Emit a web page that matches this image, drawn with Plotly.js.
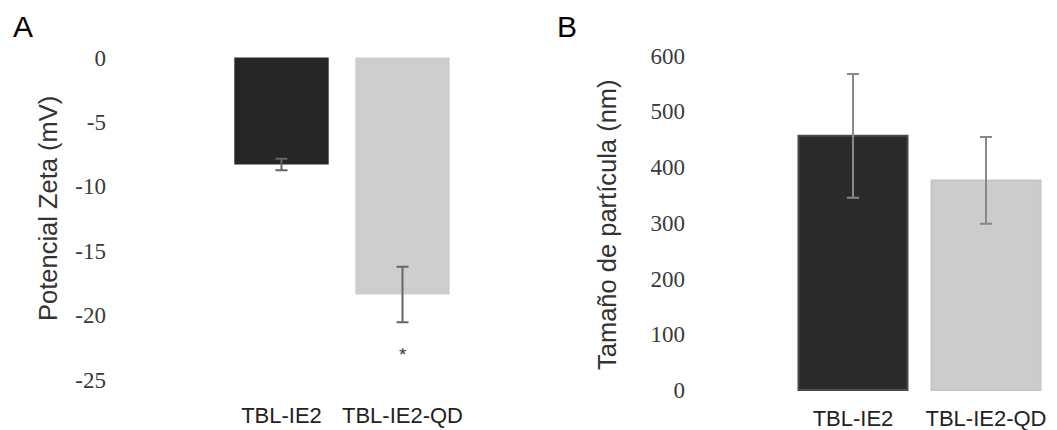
<!DOCTYPE html>
<html>
<head>
<meta charset="utf-8">
<script src="https://cdn.plot.ly/plotly-3.0.1.min.js"></script>
<style>
  html, body { margin: 0; padding: 0; background: #ffffff; }
  #chart { width: 1057px; height: 430px; }
</style>
</head>
<body>
<div id="chart"></div>
<script>
// ---- data ----
const categories = ['TBL-IE2', 'TBL-IE2-QD'];
const zetaValues = [-8.3, -18.4];
const zetaErrors = [0.45, 2.15];
const zetaSignificance = ['', '*'];
const sizeValues = [456, 376];
const sizeErrors = [111, 78];
const zetaTicks = [0, -5, -10, -15, -20, -25];
const sizeTicks = [0, 100, 200, 300, 400, 500, 600];
const barColors = ['#262626', '#cecece'];

const W = 1057, H = 430;
const px = v => v / W;
const py = v => 1 - v / H;

const serifTick = { family: 'Liberation Serif, Times New Roman, serif', size: 23, color: '#3a3a3a' };
const sansLabel = { family: 'Liberation Sans, Arial, sans-serif', size: 22, color: '#222222' };

const traces = [
  {
    type: 'bar', x: categories, y: zetaValues, xaxis: 'x', yaxis: 'y',
    width: 0.78,
    marker: { color: barColors, line: { width: 0 } },
    error_y: { type: 'data', array: zetaErrors, visible: true, color: '#666666', thickness: 2, width: 6 },
    hoverinfo: 'skip', showlegend: false
  },
  {
    type: 'bar', x: categories, y: sizeValues, xaxis: 'x2', yaxis: 'y2',
    width: 0.82,
    marker: { color: ['#2a2a2a', '#cccccc'], line: { width: 2, color: ['#4a4a4a', '#c6c6c6'] } },
    error_y: { type: 'data', array: sizeErrors, visible: true, color: '#888888', thickness: 2, width: 6 },
    hoverinfo: 'skip', showlegend: false
  }
];

const annotations = [
  { text: 'A', xref: 'paper', yref: 'paper', x: px(22.5), y: py(26), xanchor: 'center', yanchor: 'middle',
    showarrow: false, font: { family: 'Liberation Sans, Arial, sans-serif', size: 30, color: '#000' } },
  { text: 'B', xref: 'paper', yref: 'paper', x: px(566.5), y: py(26), xanchor: 'center', yanchor: 'middle',
    showarrow: false, font: { family: 'Liberation Sans, Arial, sans-serif', size: 30, color: '#000' } },
  { text: 'Potencial Zeta (mV)', xref: 'paper', yref: 'paper', x: px(48), y: py(209), textangle: -90,
    xanchor: 'center', yanchor: 'middle', showarrow: false,
    font: { family: 'Liberation Sans, Arial, sans-serif', size: 25.5, color: '#333333' } },
  { text: 'Tamaño de partícula (nm)', xref: 'paper', yref: 'paper', x: px(607), y: py(225), textangle: -90,
    xanchor: 'center', yanchor: 'middle', showarrow: false,
    font: { family: 'Liberation Sans, Arial, sans-serif', size: 25.5, color: '#333333' } }
];
categories.forEach((c, i) => {
  if (zetaSignificance[i]) {
    annotations.push({
      text: zetaSignificance[i], xref: 'x', yref: 'y', x: c,
      y: zetaValues[i] - zetaErrors[i] - 2.5,
      xanchor: 'center', yanchor: 'middle', showarrow: false,
      font: { family: 'Liberation Sans, Arial, sans-serif', size: 19, color: '#333333' }
    });
  }
});

const layout = {
  width: W, height: H,
  margin: { l: 0, r: 0, t: 0, b: 0 },
  paper_bgcolor: '#ffffff', plot_bgcolor: 'rgba(0,0,0,0)',
  showlegend: false,
  bargap: 0.2,
  xaxis: {
    domain: [px(221), px(463)], anchor: 'y', range: [-0.5, 1.5], type: 'category',
    showgrid: false, zeroline: false, showline: false, ticks: '',
    tickfont: sansLabel
  },
  yaxis: {
    domain: [py(400), py(40)], anchor: 'free', position: px(106), side: 'left',
    range: [-26.59, 1.36], tickvals: zetaTicks, ticktext: zetaTicks.map(String),
    showgrid: false, zeroline: false, showline: false, ticks: '',
    tickfont: serifTick
  },
  xaxis2: {
    domain: [px(786.5), px(1052.5)], anchor: 'y2', range: [-0.5, 1.5], type: 'category',
    showgrid: false, zeroline: false, showline: false, ticks: '',
    tickfont: sansLabel
  },
  yaxis2: {
    domain: [py(403), py(40)], anchor: 'free', position: px(685), side: 'left',
    range: [-23.3, 627.8], tickvals: sizeTicks, ticktext: sizeTicks.map(String),
    showgrid: false, zeroline: false, showline: false, ticks: '',
    tickfont: serifTick
  },
  annotations: annotations
};

Plotly.newPlot('chart', traces, layout, { staticPlot: true, displayModeBar: false });
</script>
</body>
</html>
